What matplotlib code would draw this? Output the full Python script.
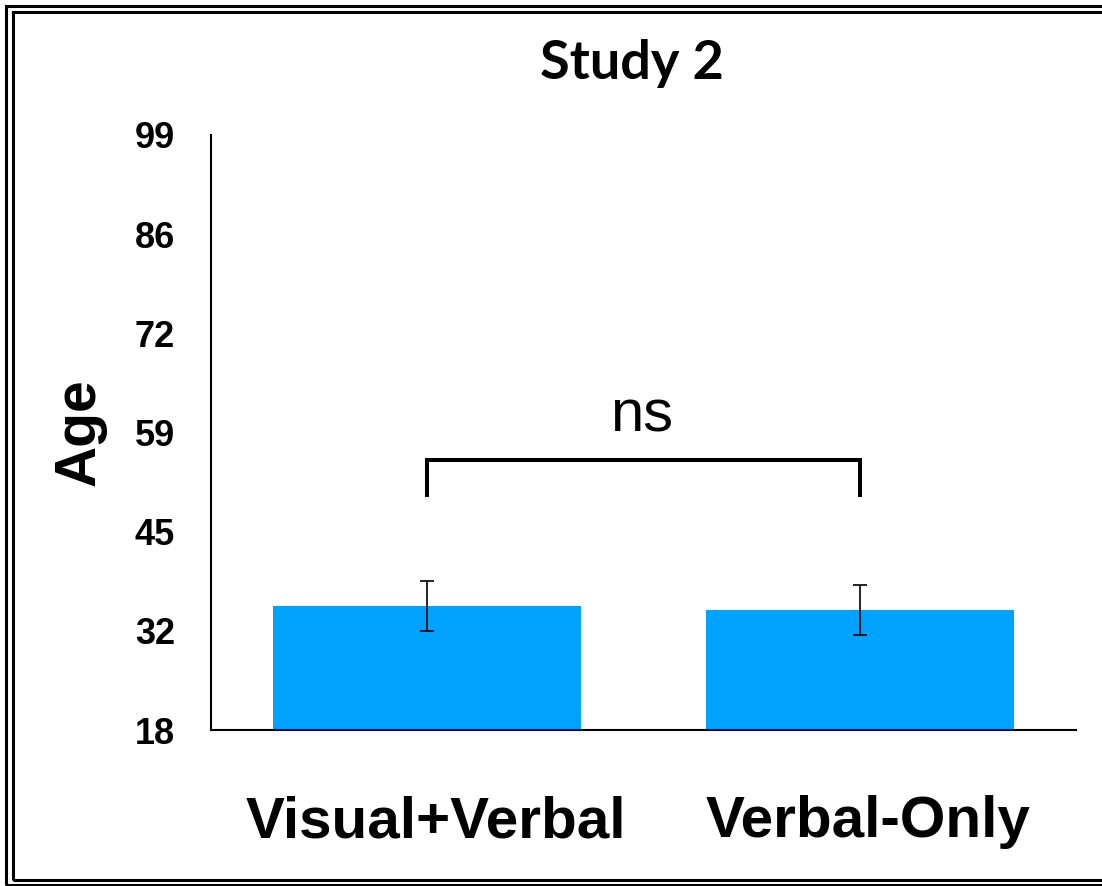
import numpy as np
import matplotlib
matplotlib.use('Agg')
import matplotlib.pyplot as plt
from matplotlib.patches import Rectangle

# Data
groups = ['Visual+Verbal', 'Verbal-Only']
means = [34.9, 34.3]
errors = [3.4, 3.4]
tick_values = np.linspace(18, 99, 7)
tick_labels = ['18', '32', '45', '59', '72', '86', '99']
bracket_top = 54.8
bracket_bottom = 50.0
sig_label = 'ns'
sig_y = 58.6

W, H = 1102, 886
fig = plt.figure(figsize=(W / 100, H / 100), dpi=100)
ax = fig.add_axes([211 / W, 1 - 730 / H, 865 / W, 595 / H])

x = np.arange(len(groups))
ax.bar(x, means, width=0.713, color='#00A2FF', zorder=2)
ax.errorbar(x, means, yerr=errors, fmt='none', ecolor='black',
            elinewidth=1.2, capsize=5, capthick=1.2, zorder=3)

# significance bracket
ax.plot([x[0], x[0], x[1], x[1]],
        [bracket_bottom, bracket_top, bracket_top, bracket_bottom],
        color='black', lw=2.9, solid_joinstyle='miter', zorder=3)
ax.text((x[0] + x[1]) / 2 - 0.005, sig_y, sig_label, ha='center', va='baseline',
        fontsize=43, family='Liberation Sans')

ax.set_xlim(-0.5, 1.5)
ax.set_ylim(18, 99)
ax.set_yticks(tick_values)
ax.set_yticklabels(tick_labels, fontsize=26, fontweight='bold', family='Liberation Sans')
ax.set_xticks(x + 0.02)
ax.set_xticklabels(groups, fontsize=42, fontweight='bold', family='Liberation Sans')
ax.tick_params(axis='y', length=0, pad=26)
ax.tick_params(axis='x', length=0, pad=47)
ax.set_ylabel('Age', fontsize=41, fontweight='bold', family='Liberation Sans', labelpad=20)

for side in ['top', 'right']:
    ax.spines[side].set_visible(False)
for side in ['left', 'bottom']:
    ax.spines[side].set_linewidth(1.5)

fig.text(632 / W, 1 - 79 / H, 'Study 2', ha='center', va='baseline',
         fontsize=39, fontweight='bold', family='Lato')

# double frame round the picture (right side runs off the canvas)
for (x0, y0, y1, lw) in [(6, 6, 885, 2.2), (13, 12, 880, 2.2)]:
    fig.add_artist(Rectangle((x0 / W, 1 - y1 / H), (1120 - x0) / W, (y1 - y0) / H,
                             transform=fig.transFigure, fill=False,
                             edgecolor='black', lw=lw))

fig.savefig('out.png', dpi=100)
